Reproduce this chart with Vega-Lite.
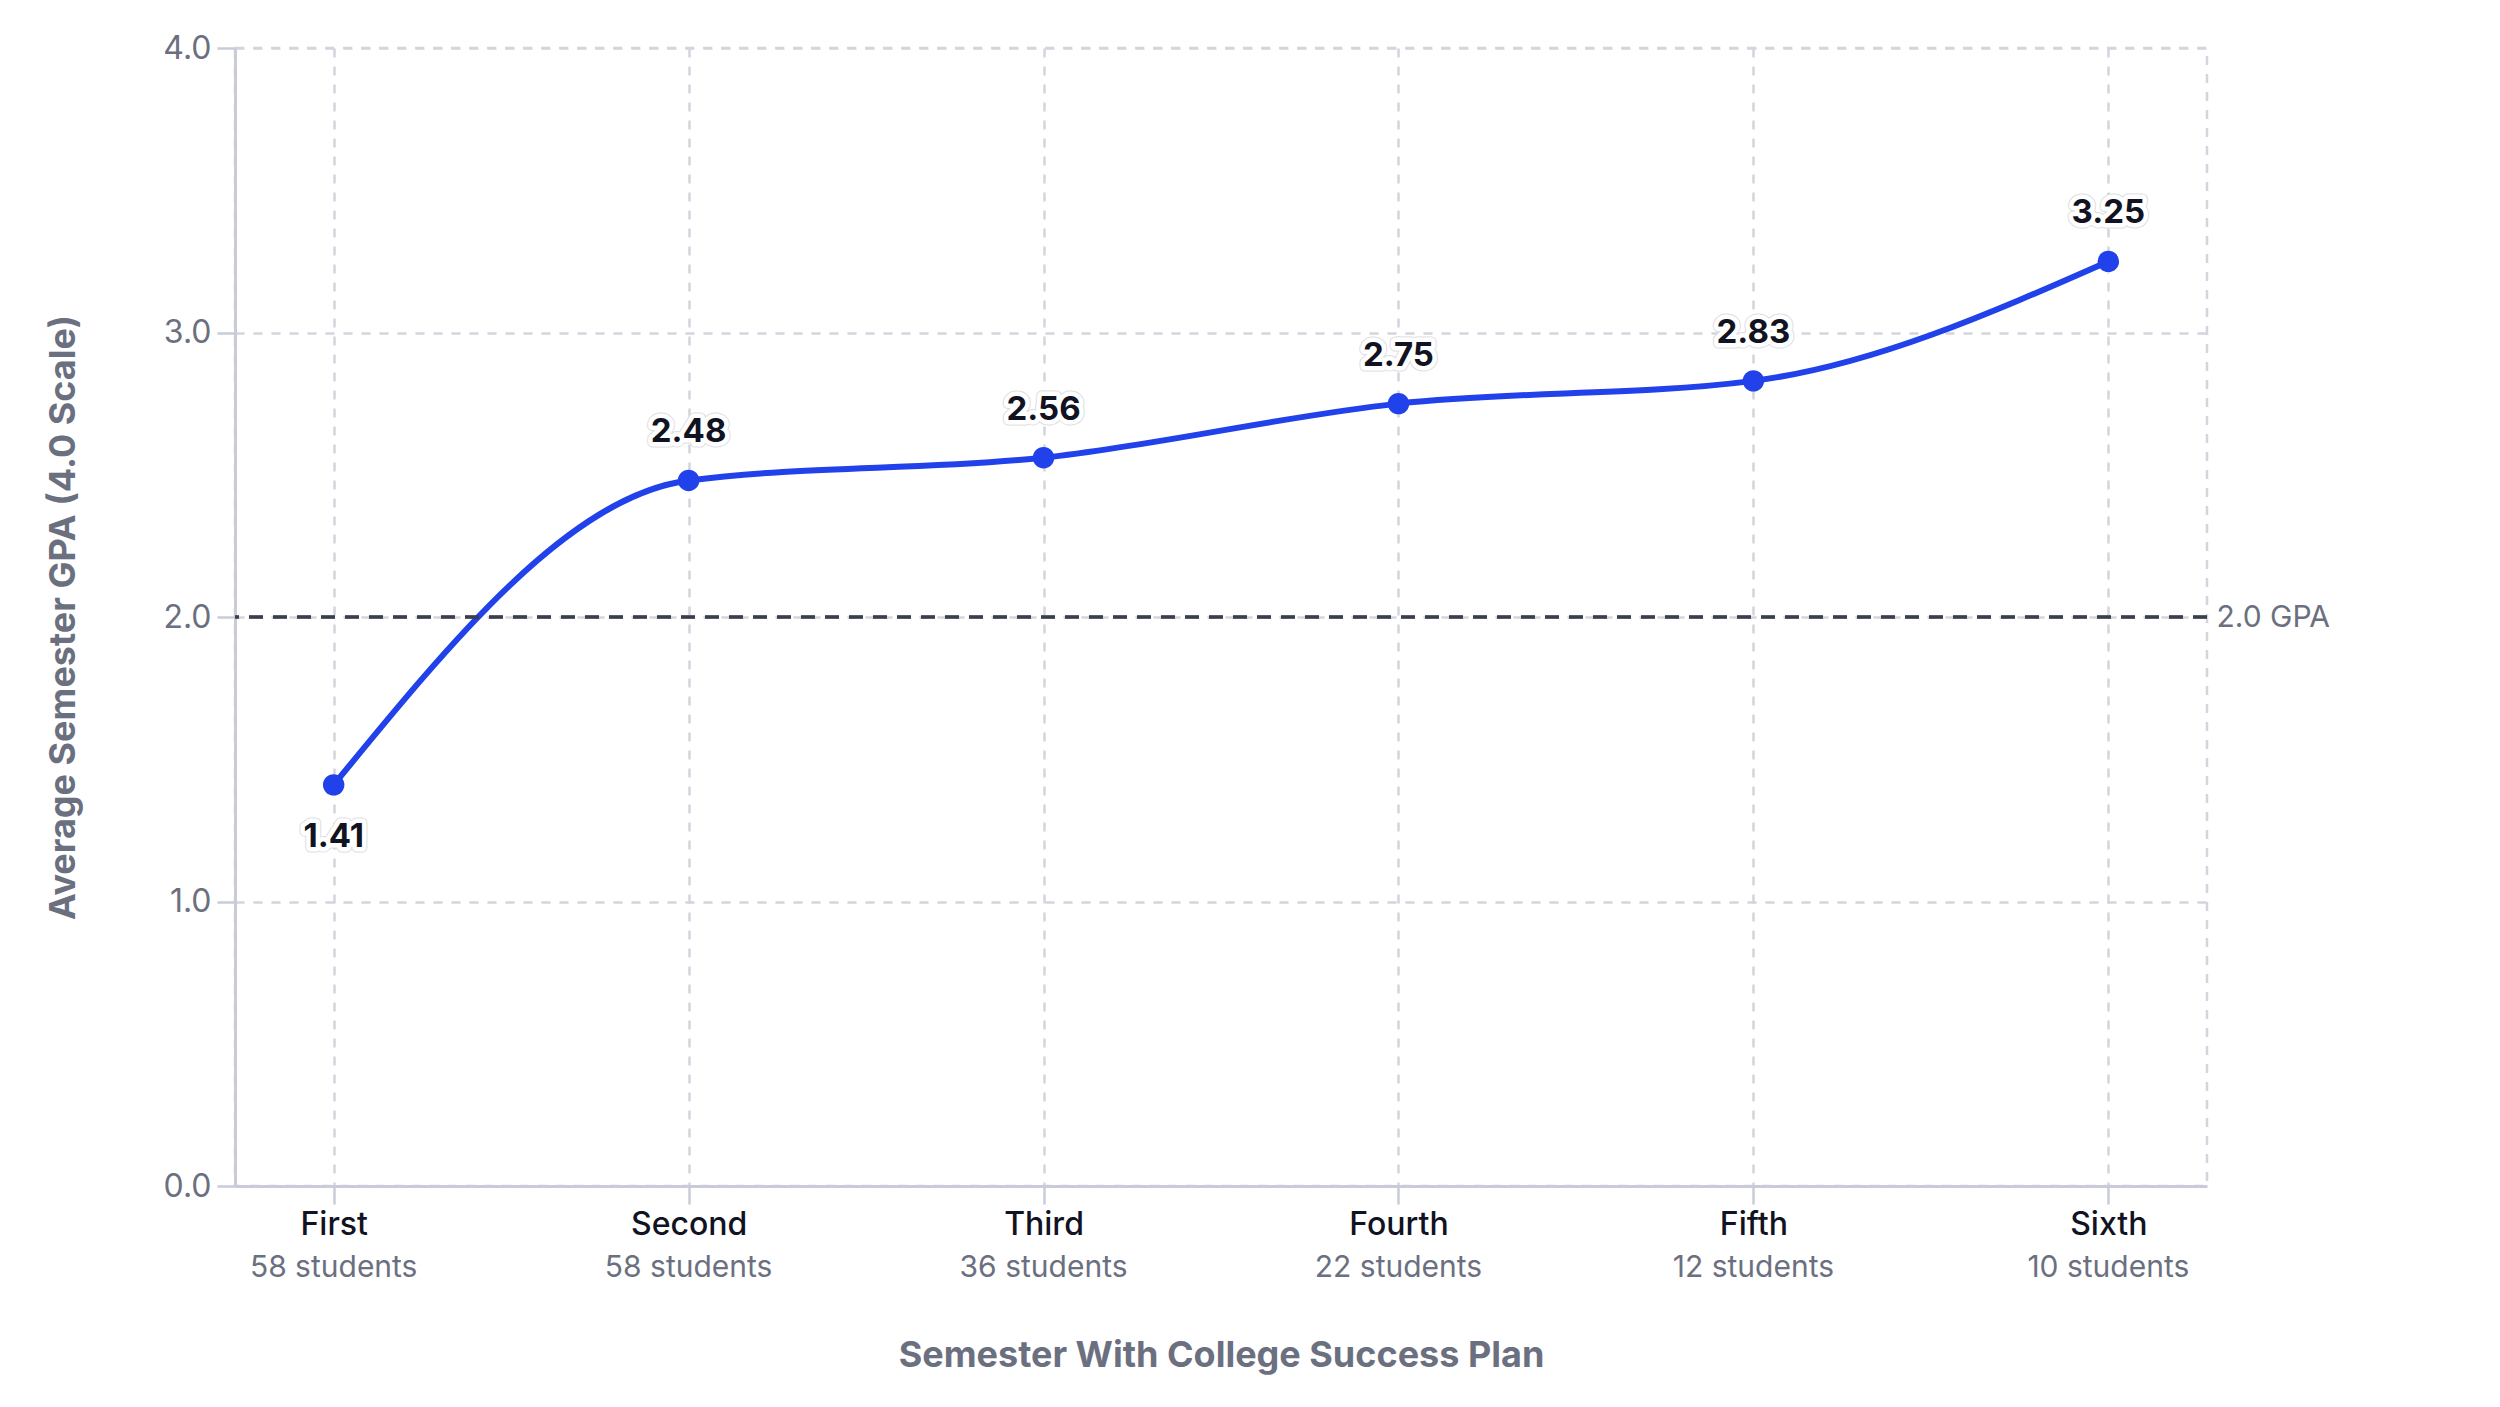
{
  "$schema": "https://vega.github.io/schema/vega-lite/v6.json",
  "width": 1972,
  "height": 1138,
  "autosize": {"type": "none"},
  "padding": {"left": 235, "top": 48, "right": 293, "bottom": 221},
  "background": "white",
  "data": {
    "values": [
      {"semester": "First", "gpa": 1.41, "students": "58 students"},
      {"semester": "Second", "gpa": 2.48, "students": "58 students"},
      {"semester": "Third", "gpa": 2.56, "students": "36 students"},
      {"semester": "Fourth", "gpa": 2.75, "students": "22 students"},
      {"semester": "Fifth", "gpa": 2.83, "students": "12 students"},
      {"semester": "Sixth", "gpa": 3.25, "students": "10 students"}
    ]
  },
  "layer": [
    {
      "encoding": {
        "x": {
          "field": "semester",
          "type": "ordinal",
          "sort": ["First", "Second", "Third", "Fourth", "Fifth", "Sixth"],
          "scale": {"type": "point", "padding": 0.278},
          "axis": {
            "labelAngle": 0,
            "labelFontSize": 32,
            "labelColor": "#111322",
            "labelFontWeight": 500,
            "labelPadding": 5,
            "grid": true,
            "title": "Semester With College Success Plan",
            "titleFontSize": 36,
            "titleColor": "#6b7080",
            "titleFontWeight": "bold",
            "titlePadding": 98
          }
        },
        "y": {
          "field": "gpa",
          "type": "quantitative",
          "scale": {"domain": [0, 4], "nice": false},
          "axis": {
            "values": [0, 1, 2, 3, 4],
            "format": ".1f",
            "labelFontSize": 32,
            "labelColor": "#6b7080",
            "labelPadding": 6,
            "title": "Average Semester GPA (4.0 Scale)",
            "titleFontSize": 36,
            "titleColor": "#6b7080",
            "titleFontWeight": "bold",
            "titlePadding": 80
          }
        }
      },
      "layer": [
        {
          "mark": {"type": "line", "interpolate": "monotone", "color": "#2141ea", "strokeWidth": 6}
        },
        {
          "mark": {"type": "circle", "color": "#2141ea", "opacity": 1, "size": 460}
        },
        {
          "transform": [{"filter": "datum.gpa >= 2"}],
          "encoding": {"text": {"field": "gpa", "type": "quantitative", "format": ".2f"}},
          "layer": [
            {"mark": {"type": "text", "dy": -48, "fontSize": 33, "fontWeight": "bold", "fill": "white", "stroke": "#dcdde3", "strokeWidth": 11, "strokeJoin": "round"}},
            {"mark": {"type": "text", "dy": -48, "fontSize": 33, "fontWeight": "bold", "fill": "white", "stroke": "white", "strokeWidth": 9, "strokeJoin": "round"}},
            {"mark": {"type": "text", "dy": -48, "fontSize": 33, "fontWeight": "bold", "fill": "#111322"}}
          ]
        },
        {
          "transform": [{"filter": "datum.gpa < 2"}],
          "encoding": {"text": {"field": "gpa", "type": "quantitative", "format": ".2f"}},
          "layer": [
            {"mark": {"type": "text", "dy": 52, "fontSize": 33, "fontWeight": "bold", "fill": "white", "stroke": "#dcdde3", "strokeWidth": 11, "strokeJoin": "round"}},
            {"mark": {"type": "text", "dy": 52, "fontSize": 33, "fontWeight": "bold", "fill": "white", "stroke": "white", "strokeWidth": 9, "strokeJoin": "round"}},
            {"mark": {"type": "text", "dy": 52, "fontSize": 33, "fontWeight": "bold", "fill": "#111322"}}
          ]
        },
        {
          "mark": {"type": "text", "dy": 82, "fontSize": 30, "color": "#6b7080", "baseline": "middle"},
          "encoding": {
            "y": {"datum": 0},
            "text": {"field": "students", "type": "nominal"}
          }
        }
      ]
    },
    {
      "mark": {"type": "rule", "color": "#3b3e4c", "strokeDash": [14, 10], "strokeWidth": 2.5},
      "encoding": {
        "y": {
          "datum": 2,
          "type": "quantitative",
          "axis": {
            "orient": "right",
            "values": [2],
            "labelExpr": "'2.0 GPA'",
            "domain": false,
            "ticks": false,
            "grid": false,
            "title": null,
            "labelFontSize": 30,
            "labelColor": "#6b7080",
            "labelPadding": 9
          }
        }
      }
    }
  ],
  "resolve": {"axis": {"y": "independent"}},
  "config": {
    "font": "Inter",
    "view": {"stroke": "#d3d4de", "strokeDash": [9, 9], "strokeWidth": 2.5},
    "axis": {
      "labelFont": "Inter",
      "titleFont": "Inter",
      "domainColor": "#c9cbd9",
      "domainWidth": 3,
      "tickColor": "#c9cbd9",
      "tickWidth": 2.5,
      "tickSize": 18,
      "gridColor": "#d3d4de",
      "gridDash": [9, 9],
      "gridWidth": 2.5
    }
  }
}
